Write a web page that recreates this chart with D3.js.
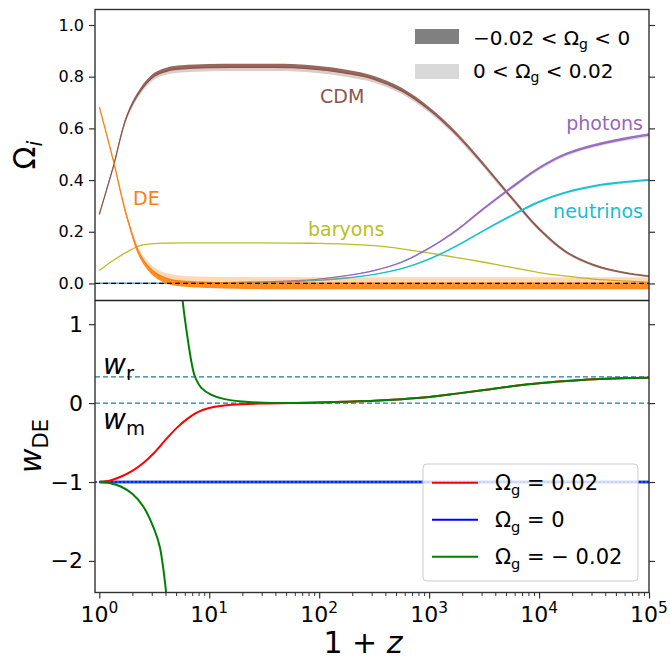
<!DOCTYPE html>
<html>
<head>
<meta charset="utf-8">
<script src="https://cdn.jsdelivr.net/npm/d3@7"></script>
<style>
  body { margin: 0; background: #fff; }
  text { font-family: "DejaVu Sans", sans-serif; fill: #000; }
</style>
</head>
<body>
<svg width="670" height="660"></svg>
<script>
// log10(1+z) sample points
const logZ = [0, 0.125, 0.25, 0.375, 0.5, 0.625, 0.75, 1, 1.25, 1.5, 1.75, 2, 2.25, 2.5, 2.75, 3, 3.25, 3.5, 3.75, 4, 4.25, 4.5, 4.75, 5];

// density parameters (Omega_g = 0) and the band half-width for |Omega_g| = 0.02
const cdm = [0.267, 0.448, 0.645, 0.745, 0.802, 0.823, 0.830, 0.835, 0.836, 0.836, 0.835, 0.827, 0.813, 0.79, 0.745, 0.672, 0.575, 0.456, 0.33, 0.21, 0.12, 0.07, 0.043, 0.027];
const cdmSpread = [0.002, 0.006, 0.01, 0.012, 0.013, 0.014, 0.014, 0.014, 0.014, 0.014, 0.014, 0.014, 0.014, 0.013, 0.012, 0.011, 0.01, 0.009, 0.008, 0.007, 0.006, 0.005, 0.004, 0.004];
const de = [0.683, 0.48, 0.26, 0.108, 0.044, 0.018, 0.009, 0.004, 0.002, 0.001, 0.001, 0.001, 0.001, 0.001, 0.001, 0.001, 0.001, 0.001, 0.001, 0.001, 0.001, 0.001, 0.001, 0.001];
const deSpread = [0.001, 0.005, 0.01, 0.015, 0.018, 0.02, 0.021, 0.022, 0.023, 0.023, 0.023, 0.023, 0.023, 0.023, 0.023, 0.023, 0.023, 0.023, 0.023, 0.023, 0.023, 0.023, 0.023, 0.023];
const baryons = [0.05, 0.089, 0.121, 0.147, 0.154, 0.156, 0.157, 0.157, 0.157, 0.157, 0.156, 0.155, 0.152, 0.146, 0.134, 0.118, 0.1, 0.082, 0.062, 0.042, 0.028, 0.017, 0.01, 0.005];
const photons = [0, 0, 0, 0, 0, 0.001, 0.001, 0.002, 0.004, 0.006, 0.01, 0.017, 0.03, 0.05, 0.082, 0.136, 0.205, 0.29, 0.37, 0.445, 0.5, 0.533, 0.556, 0.574];
const photonSpread = [0, 0, 0, 0, 0, 0, 0, 0, 0, 0, 0, 0.001, 0.001, 0.002, 0.003, 0.004, 0.005, 0.006, 0.007, 0.007, 0.007, 0.007, 0.007, 0.007];
const neutrinos = [0, 0, 0, 0, 0, 0, 0.001, 0.001, 0.003, 0.004, 0.007, 0.012, 0.021, 0.035, 0.057, 0.094, 0.145, 0.205, 0.262, 0.315, 0.352, 0.376, 0.39, 0.40];
const neutrinoSpread = [0, 0, 0, 0, 0, 0, 0, 0, 0, 0, 0, 0.001, 0.001, 0.001, 0.002, 0.003, 0.004, 0.004, 0.005, 0.005, 0.005, 0.005, 0.005, 0.005];

// w_DE curves
const redLogZ = [0, 0.1, 0.2, 0.3, 0.4, 0.5, 0.6, 0.7, 0.8, 0.9, 1.0, 1.2, 1.5, 1.75, 2, 2.25, 2.5, 2.75, 3, 3.25, 3.5, 3.75, 4, 4.25, 4.5, 4.75, 5];
const redW = [-1, -0.98, -0.93, -0.86, -0.76, -0.63, -0.47, -0.32, -0.2, -0.11, -0.062, -0.022, -0.004, 0.0, 0.008, 0.018, 0.03, 0.05, 0.078, 0.12, 0.165, 0.213, 0.252, 0.28, 0.302, 0.315, 0.322];
const greenLowLogZ = [0, 0.1, 0.2, 0.3, 0.4, 0.5, 0.55, 0.6, 0.62];
const greenLowW = [-1, -1.015, -1.06, -1.15, -1.31, -1.6, -1.82, -2.3, -2.6];
const greenHighLogZ = [0.745, 0.78, 0.81, 0.84, 0.87, 0.93, 1.02, 1.14, 1.3, 1.5, 1.75, 2, 2.25, 2.5, 2.75, 3, 3.25, 3.5, 3.75, 4, 4.25, 4.5, 4.75, 5];
const greenHighW = [1.45, 1.05, 0.76, 0.506, 0.337, 0.19, 0.105, 0.05, 0.02, 0.005, 0.002, 0.008, 0.018, 0.03, 0.05, 0.078, 0.12, 0.165, 0.213, 0.252, 0.28, 0.302, 0.315, 0.322];
const blueLogZ = [0, 5];
const blueW = [-1, -1];
const wRad = 1 / 3, wMat = 0, wLam = -1;

const xTicks = [0, 1, 2, 3, 4, 5];
const yTopTicks = [0, 0.2, 0.4, 0.6, 0.8, 1.0];
const yBotTicks = [-2, -1, 0, 1];

const svg = d3.select('svg');
const L = 95, R = 649, T1 = 9.5, B1 = 300.5, B2 = 592.5;

const x = d3.scaleLog().domain([0.914, 1e5]).range([L, R]);
const yTop = d3.scaleLinear().domain([-0.066, 1.06]).range([B1, T1]);
const yBot = d3.scaleLinear().domain([-2.4, 1.3]).range([B2, B1]);
const xl = v => x(Math.pow(10, v));
const smooth = d3.curveCatmullRom.alpha(0.5);

const defs = svg.append('defs');
defs.append('clipPath').attr('id', 'cTop').append('rect').attr('x', L).attr('y', T1).attr('width', R - L).attr('height', B1 - T1);
defs.append('clipPath').attr('id', 'cBot').append('rect').attr('x', L).attr('y', B1).attr('width', R - L).attr('height', B2 - B1);

// helper for text with sub/superscripts
function rich(sel, px, py, parts, size, anchor) {
  const t = sel.append('text').attr('x', px).attr('y', py).attr('font-size', size)
    .attr('text-anchor', anchor || 'start');
  let shift = 0;
  parts.forEach(([s, kind]) => {
    let target = 0, fs = size;
    if (kind === 'sub' || kind === 'subit') { target = size * 0.22; fs = size * 0.7; }
    if (kind === 'sup') { target = -size * 0.42; fs = size * 0.7; }
    const ts = t.append('tspan').text(s).attr('dy', target - shift).attr('font-size', fs);
    if (kind === 'it' || kind === 'subit') ts.attr('font-style', 'italic');
    shift = target;
  });
  return t;
}

// ---------- top panel ----------
const gTop = svg.append('g').attr('clip-path', 'url(#cTop)');
const species = [
  { v: cdm, s: cdmSpread, c: '#8c564b', dir: 1 },
  { v: baryons, s: null, c: '#bcbd22', dir: 1 },
  { v: photons, s: photonSpread, c: '#9467bd', dir: 1 },
  { v: neutrinos, s: neutrinoSpread, c: '#17becf', dir: 1 },
  { v: de, s: deSpread, c: '#ff7f0e', dir: -1 }
];
species.forEach(sp => {
  const pts = logZ.map((l, i) => ({ l, v: sp.v[i], s: sp.s ? sp.s[i] : 0 }));
  if (sp.s) {
    // light band: 0 < Omega_g < 0.02
    gTop.append('path').datum(pts)
      .attr('d', d3.area().curve(smooth).x(d => xl(d.l))
        .y0(d => yTop(d.v)).y1(d => yTop(d.v - sp.dir * d.s)))
      .attr('fill', sp.c).attr('fill-opacity', 0.3);
    // dark band: -0.02 < Omega_g < 0
    gTop.append('path').datum(pts)
      .attr('d', d3.area().curve(smooth).x(d => xl(d.l))
        .y0(d => yTop(d.v)).y1(d => yTop(d.v + sp.dir * d.s)))
      .attr('fill', sp.c).attr('fill-opacity', 0.9);
  }
  gTop.append('path').datum(pts)
    .attr('d', d3.line().curve(smooth).x(d => xl(d.l)).y(d => yTop(d.v)))
    .attr('fill', 'none').attr('stroke', sp.c).attr('stroke-width', 1.3);
});
gTop.append('line').attr('x1', L).attr('x2', R).attr('y1', yTop(0)).attr('y2', yTop(0))
  .attr('stroke', '#000').attr('stroke-width', 1.2).attr('stroke-dasharray', '5,3');

// species labels
const lab = svg.append('g').attr('font-size', 19);
lab.append('text').attr('x', 320).attr('y', 103).style('fill', '#8c564b').text('CDM');
lab.append('text').attr('x', 133).attr('y', 205).style('fill', '#ff7f0e').text('DE');
lab.append('text').attr('x', 308).attr('y', 236).style('fill', '#bcbd22').text('baryons');
lab.append('text').attr('x', 643).attr('y', 130).attr('text-anchor', 'end').style('fill', '#9467bd').text('photons');
lab.append('text').attr('x', 643).attr('y', 218).attr('text-anchor', 'end').style('fill', '#17becf').text('neutrinos');

// top legend (no frame)
const lg1 = svg.append('g');
lg1.append('rect').attr('x', 415).attr('y', 29).attr('width', 44).attr('height', 15).attr('fill', '#808080');
lg1.append('rect').attr('x', 415).attr('y', 64).attr('width', 44).attr('height', 15).attr('fill', '#d9d9d9');
rich(lg1, 473, 45, [['\u22120.02 < \u03a9', ''], ['g', 'sub'], [' < 0', '']], 20);
rich(lg1, 473, 78, [['0 < \u03a9', ''], ['g', 'sub'], [' < 0.02', '']], 20);

// ---------- bottom panel ----------
const gBot = svg.append('g').attr('clip-path', 'url(#cBot)');
[wRad, wMat].forEach(w => {
  gBot.append('line').attr('x1', L).attr('x2', R).attr('y1', yBot(w)).attr('y2', yBot(w))
    .attr('stroke', '#1f77b4').attr('stroke-width', 1.2).attr('stroke-dasharray', '5,3');
});
const wLine = d3.line().curve(smooth).x(d => xl(d[0])).y(d => yBot(d[1]));
gBot.append('path').datum(blueLogZ.map((l, i) => [l, blueW[i]])).attr('d', wLine)
  .attr('fill', 'none').attr('stroke', '#3060d8').attr('stroke-width', 3);
gBot.append('line').attr('x1', L).attr('x2', R).attr('y1', yBot(wLam)).attr('y2', yBot(wLam))
  .attr('stroke', '#0000ff').attr('stroke-width', 1.5).attr('stroke-dasharray', '2,2');
gBot.append('path').datum(redLogZ.map((l, i) => [l, redW[i]])).attr('d', wLine)
  .attr('fill', 'none').attr('stroke', '#ff0000').attr('stroke-width', 2);
gBot.append('path').datum(greenLowLogZ.map((l, i) => [l, greenLowW[i]])).attr('d', wLine)
  .attr('fill', 'none').attr('stroke', '#008000').attr('stroke-width', 2);
gBot.append('path').datum(greenHighLogZ.map((l, i) => [l, greenHighW[i]])).attr('d', wLine)
  .attr('fill', 'none').attr('stroke', '#008000').attr('stroke-width', 2);

rich(svg, 103, 374, [['w', 'it'], ['r', 'sub']], 28);
rich(svg, 103, 429, [['w', 'it'], ['m', 'sub']], 28);

// bottom legend
const lg2 = svg.append('g');
lg2.append('rect').attr('x', 423).attr('y', 464).attr('width', 215).attr('height', 117).attr('rx', 4)
  .attr('fill', '#fff').attr('fill-opacity', 0.8).attr('stroke', '#cccccc');
const legItems = [
  { c: '#ff0000', t: [['\u03a9', ''], ['g', 'sub'], [' = 0.02', '']] },
  { c: '#0000ff', t: [['\u03a9', ''], ['g', 'sub'], [' = 0', '']] },
  { c: '#008000', t: [['\u03a9', ''], ['g', 'sub'], [' = \u2212 0.02', '']] }
];
legItems.forEach((d, i) => {
  const yy = 482.7 + i * 37;
  lg2.append('line').attr('x1', 432).attr('x2', 478).attr('y1', yy).attr('y2', yy)
    .attr('stroke', d.c).attr('stroke-width', 2);
  rich(lg2, 495, yy + 7.5, d.t, 21);
});

// ---------- axes ----------
const axStyle = g => {
  g.select('.domain').remove();
  g.selectAll('.tick line').attr('stroke', '#333').attr('stroke-width', 1.2);
  g.selectAll('text').attr('fill', '#000').style('font-family', '"DejaVu Sans", sans-serif');
};
svg.append('g').attr('transform', `translate(${L},0)`)
  .call(d3.axisLeft(yTop).tickValues(yTopTicks).tickSize(6).tickPadding(5).tickFormat(d3.format('.1f')))
  .call(axStyle).selectAll('text').attr('font-size', 16);
svg.append('g').attr('transform', `translate(${R},0)`)
  .call(d3.axisRight(yTop).tickValues(yTopTicks).tickSize(6).tickFormat(''))
  .call(axStyle);
svg.append('g').attr('transform', `translate(${L},0)`)
  .call(d3.axisLeft(yBot).tickValues(yBotTicks).tickSize(6).tickPadding(6).tickFormat(d => d < 0 ? '\u2212' + Math.abs(d) : d))
  .call(axStyle).selectAll('text').attr('font-size', 22);
svg.append('g').attr('transform', `translate(${R},0)`)
  .call(d3.axisRight(yBot).tickValues(yBotTicks).tickSize(6).tickFormat(''))
  .call(axStyle);

const minor = [];
for (let e = 0; e < 5; e++) for (let k = 2; k < 10; k++) minor.push(k * Math.pow(10, e));
svg.append('g').attr('transform', `translate(0,${B2})`)
  .call(d3.axisBottom(x).tickValues(minor).tickSize(3.5).tickFormat(''))
  .call(axStyle).selectAll('.tick line').attr('stroke-width', 1);
svg.append('g').attr('transform', `translate(0,${B2})`)
  .call(d3.axisBottom(x).tickValues(xTicks.map(e => Math.pow(10, e))).tickSize(6).tickFormat(''))
  .call(axStyle);
xTicks.forEach(e => {
  rich(svg, xl(e), 622, [['10', ''], [String(e), 'sup']], 22, 'middle');
});

// frame
svg.append('rect').attr('x', L).attr('y', T1).attr('width', R - L).attr('height', B2 - T1)
  .attr('fill', 'none').attr('stroke', '#333').attr('stroke-width', 1.4);
svg.append('line').attr('x1', L).attr('x2', R).attr('y1', B1).attr('y2', B1)
  .attr('stroke', '#222').attr('stroke-width', 1.4);

// axis titles
const yl1 = svg.append('g').attr('transform', 'translate(35,155) rotate(-90)');
rich(yl1, 0, 0, [['\u03a9', ''], ['i', 'subit']], 30, 'middle');
const yl2 = svg.append('g').attr('transform', 'translate(41,446) rotate(-90)');
rich(yl2, 0, 0, [['w', 'it'], ['DE', 'sub']], 30, 'middle');
rich(svg, 363, 653, [['1 + ', ''], ['z', 'it']], 30, 'middle');
</script>
</body>
</html>
